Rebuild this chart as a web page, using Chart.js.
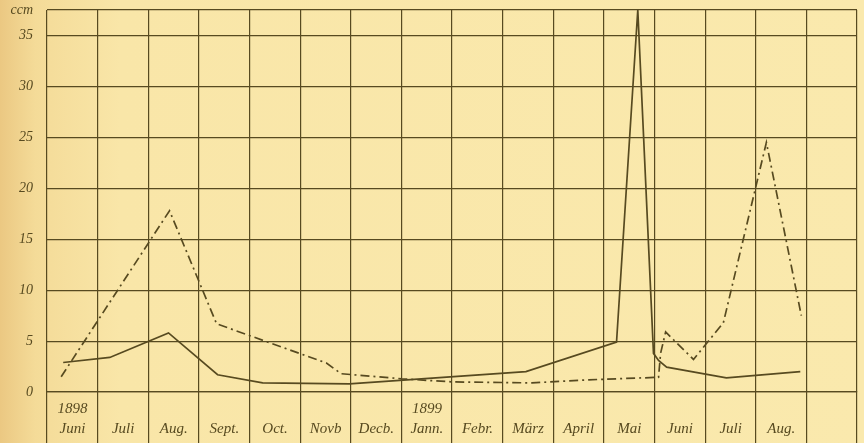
<!DOCTYPE html>
<html>
<head>
<meta charset="utf-8">
<script src="https://cdn.jsdelivr.net/npm/chart.js@4.4.1/dist/chart.umd.min.js"></script>
<style>
  html, body { margin: 0; padding: 0; }
  body {
    width: 864px; height: 443px; overflow: hidden;
    background: linear-gradient(to right, #ebc882 0px, #f4db98 35px, #f9e6a8 120px, #fae9ad 100%);
  }
  #wrap { width: 864px; height: 443px; }
</style>
</head>
<body>
<div id="wrap"><canvas id="chart"></canvas></div>
<script>
// months, 1898 Juni .. 1899 Aug (16th column left empty)
const months = [
  ['1898', 'Juni'], ['', 'Juli'], ['', 'Aug.'], ['', 'Sept.'], ['', 'Oct.'],
  ['', 'Novb'], ['', 'Decb.'], ['1899', 'Jann.'], ['', 'Febr.'], ['', 'März'],
  ['', 'April'], ['', 'Mai'], ['', 'Juni'], ['', 'Juli'], ['', 'Aug.'], ['', '']
];
const xTicks = [0, 1, 2, 3, 4, 5, 6, 7, 8, 9, 10, 11, 12, 13, 14, 15, 16];
const yTicks = [-5, 0, 5, 10, 15, 20, 25, 30, 35, 37.5];

// solid curve (month position, ccm)
const solidX = [0.32, 1.24, 2.40, 3.37, 4.26, 5.97, 9.46, 11.25, 11.67, 11.98, 12.08, 12.24, 13.42, 14.88];
const solidY = [2.9, 3.4, 5.8, 1.7, 0.9, 0.8, 2.0, 4.9, 37.5, 3.8, 3.1, 2.45, 1.4, 2.0];

// dash-dot curve
const dashX = [0.28, 2.42, 3.35, 5.52, 5.81, 7.01, 8.0, 9.58, 10.7, 12.08, 12.12, 12.22, 12.77, 13.36, 14.21, 14.90];
const dashY = [1.5, 17.8, 6.7, 2.85, 1.8, 1.3, 1.0, 0.9, 1.2, 1.45, 3.8, 5.9, 3.2, 6.8, 24.5, 7.5];

const ink = '#574a20';
const toPoints = (xs, ys) => xs.map((x, i) => ({ x: x, y: ys[i] }));

new Chart(document.getElementById('chart'), {
  type: 'line',
  data: {
    datasets: [
      {
        data: toPoints(solidX, solidY),
        borderColor: ink,
        borderWidth: 1.7,
        pointRadius: 0,
        tension: 0
      },
      {
        data: toPoints(dashX, dashY),
        borderColor: ink,
        borderWidth: 1.7,
        borderDash: [9, 4, 2, 4],
        pointRadius: 0,
        tension: 0
      }
    ]
  },
  options: {
    responsive: true,
    maintainAspectRatio: false,
    animation: false,
    layout: { padding: { top: 10, right: 4, bottom: 0, left: 0 } },
    plugins: { legend: { display: false }, tooltip: { enabled: false } },
    scales: {
      x: {
        type: 'linear',
        axis: 'x',
        position: { y: 0 },
        min: 0,
        max: 16,
        afterBuildTicks: s => { s.ticks = xTicks.map(v => ({ value: v })); },
        grid: { color: ink, lineWidth: 1.2, drawTicks: false },
        border: { color: ink, width: 1.2 },
        ticks: {
          color: ink,
          font: { family: 'Liberation Serif', style: 'italic', size: 15, lineHeight: 1.35 },
          labelOffset: 25.5,
          padding: 7,
          maxRotation: 0,
          autoSkip: false,
          callback: v => months[v] || ''
        }
      },
      y: {
        type: 'linear',
        min: -5,
        max: 37.5,
        afterBuildTicks: s => { s.ticks = yTicks.map(v => ({ value: v })); },
        afterFit: s => { s.width = 47; s.paddingTop = 0; s.paddingBottom = 0; },
        grid: {
          color: c => (c.tick && c.tick.value < 0) ? 'rgba(0,0,0,0)' : ink,
          lineWidth: 1.2,
          drawTicks: false
        },
        border: { display: false },
        ticks: {
          color: ink,
          font: { family: 'Liberation Serif', style: 'italic', size: 14 },
          padding: 14,
          autoSkip: false,
          callback: v => v === 37.5 ? 'ccm' : (v < 0 ? '' : String(v))
        }
      }
    }
  }
});
</script>
</body>
</html>
